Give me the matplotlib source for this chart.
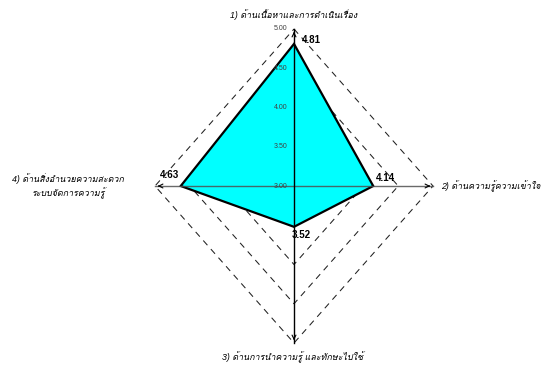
import matplotlib
matplotlib.use('Agg')
import matplotlib.pyplot as plt
from matplotlib import font_manager
from matplotlib.ft2font import FT2Font

categories = ['1) ด้านเนื้อหาและการดำเนินเรื่อง',
              '2) ด้านความรู้ความเข้าใจ',
              '3) ด้านการนำความรู้ และทักษะไปใช้',
              '4) ด้านสิ่งอำนวยความสะดวก\nระบบจัดการความรู้']
values = [4.81, 4.14, 3.52, 4.63]
value_labels = ['4.81', '4.14', '3.52', '4.63']
ticks = [3.0, 3.5, 4.0, 4.5, 5.0]
tick_labels = ['3.00', '3.50', '4.00', '4.50', '5.00']

rmin = 3.0
rmax = 5.0
# top, right, bottom, left
dirs = [(0, 1), (1, 0), (0, -1), (-1, 0)]


def thai_font():
    # look for any installed font that has thai glyphs
    for f in font_manager.fontManager.ttflist:
        try:
            if 0x0E14 in FT2Font(f.fname).get_charmap():
                return f.name
        except Exception:
            pass
    return 'DejaVu Sans'


tfont = thai_font()
plt.rcParams['font.family'] = ['Liberation Sans', tfont, 'DejaVu Sans']

fig = plt.figure(figsize=(5.41, 3.68), dpi=100)
ax = fig.add_axes([0, 0, 1, 1])
ax.set_xlim(-294 / 69.5, 247 / 69.5)
ax.set_ylim(-182 / 78.5, 186 / 78.5)
ax.axis('off')

# dashed grid diamonds
for t in ticks[1:]:
    r = t - rmin
    gx = [d[0] * r for d in dirs] + [dirs[0][0] * r]
    gy = [d[1] * r for d in dirs] + [dirs[0][1] * r]
    ax.plot(gx, gy, color='#202020', lw=0.75, dashes=(6, 5), zorder=1)

# data polygon
px = [d[0] * (v - rmin) for d, v in zip(dirs, values)]
py = [d[1] * (v - rmin) for d, v in zip(dirs, values)]
ax.fill(px, py, facecolor='#00FFFF', edgecolor='black', lw=1.6, zorder=2)

# axis lines
R = rmax - rmin
ax.plot([-R, R], [0, 0], color='#505050', lw=1.0, alpha=0.85, zorder=3)
ax.plot([0, 0], [-R, R], color='black', lw=1.0, zorder=3)
for d in dirs:
    ax.annotate('', xy=(d[0] * R, d[1] * R), xytext=(d[0] * R * 0.95, d[1] * R * 0.95),
                arrowprops=dict(arrowstyle='->', lw=0.8, color='black', mutation_scale=7),
                zorder=3)

# tick labels on the top axis
for t, lab in zip(ticks, tick_labels):
    ax.text(-0.1, t - rmin, lab, ha='right', va='center', fontsize=5, color='#404040', zorder=4)

# value labels
ax.text(px[0] + 0.11, py[0] + 0.05, value_labels[0], ha='left', va='center',
        fontsize=7, fontweight='bold', zorder=4)
ax.text(px[1] + 0.04, py[1] + 0.04, value_labels[1], ha='left', va='bottom',
        fontsize=7, fontweight='bold', zorder=4)
ax.text(px[2] - 0.03, py[2] - 0.1, value_labels[2], ha='left', va='center',
        fontsize=7, fontweight='bold', zorder=4)
ax.text(px[3] - 0.03, py[3] + 0.14, value_labels[3], ha='right', va='center',
        fontsize=7, fontweight='bold', zorder=4)

# category labels
ax.text(0, 2.18, categories[0], ha='center', va='center', fontsize=6.4, style='italic')
ax.text(2.115, 0, categories[1], ha='left', va='center', fontsize=6.4, style='italic')
ax.text(-0.02, -2.18, categories[2], ha='center', va='center', fontsize=6.4, style='italic')
ax.text(-3.25, 0.0, categories[3], ha='center', va='center', fontsize=6.4, style='italic',
        linespacing=1.3)

fig.savefig('out.png', dpi=100)
